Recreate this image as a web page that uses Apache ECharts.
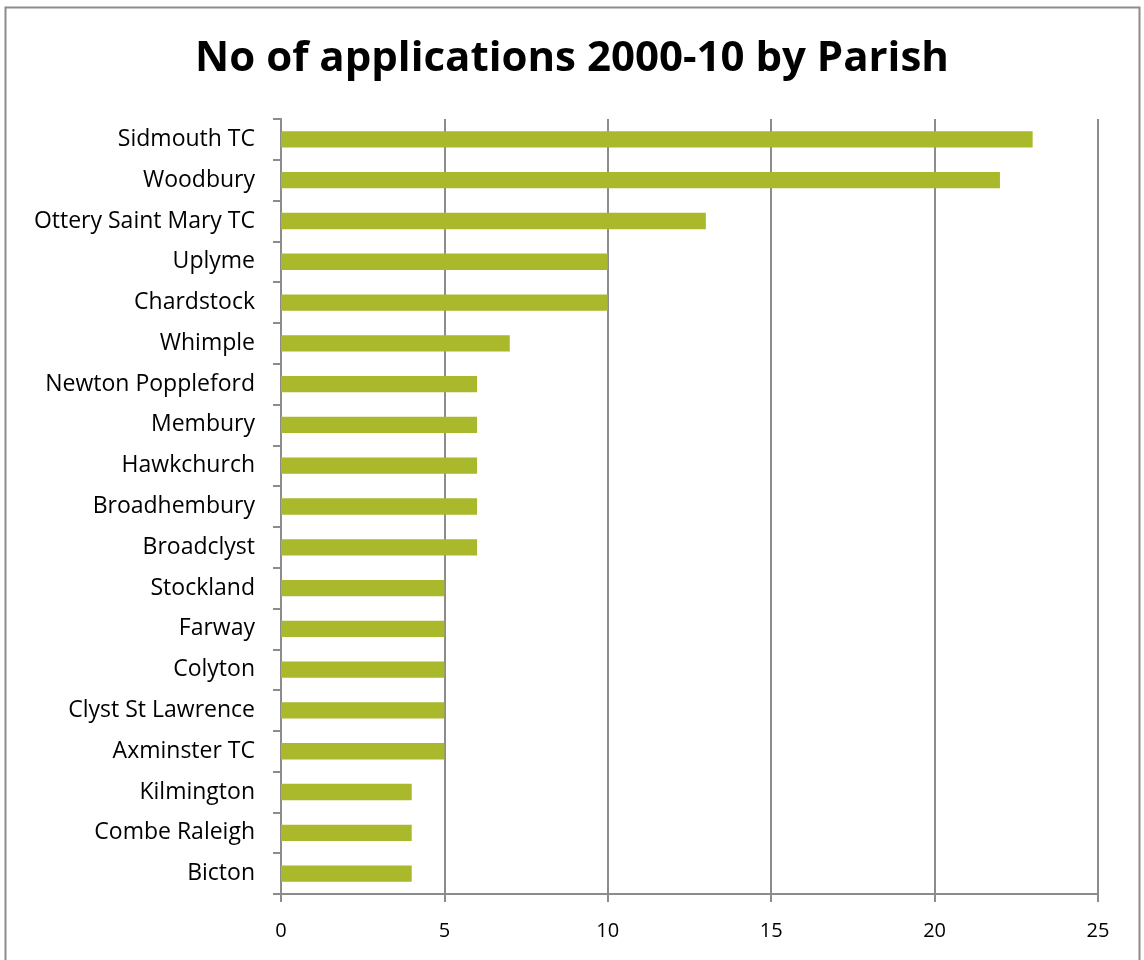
<!DOCTYPE html>
<html>
<head>
<meta charset="utf-8">
<script src="https://cdn.jsdelivr.net/npm/echarts@6/dist/echarts.min.js"></script>
<style>
  html, body {margin: 0; padding: 0; background: #fff;}
  #chart {width: 1144px; height: 960px;}
</style>
</head>
<body>
<div id="chart"></div>
<script>
// parishes, top to bottom as shown
const parishes = ['Sidmouth TC', 'Woodbury', 'Ottery Saint Mary TC', 'Uplyme', 'Chardstock', 'Whimple',
  'Newton Poppleford', 'Membury', 'Hawkchurch', 'Broadhembury', 'Broadclyst', 'Stockland', 'Farway',
  'Colyton', 'Clyst St Lawrence', 'Axminster TC', 'Kilmington', 'Combe Raleigh', 'Bicton'];
const applications = [23, 22, 13, 10, 10, 7, 6, 6, 6, 6, 6, 5, 5, 5, 5, 5, 4, 4, 4];
const xMin = 0, xMax = 25, xStep = 5;

const gray = '#8c8c8c';
const font = '"Open Sans", sans-serif';

const myChart = echarts.init(document.getElementById('chart'));
myChart.setOption({
  animation: false,
  backgroundColor: '#fff',
  graphic: [{
    type: 'rect',
    shape: {x: 5.5, y: 7.5, width: 1134, height: 1000},
    style: {fill: 'none', stroke: gray, lineWidth: 2}
  }],
  title: {
    text: 'No of applications 2000-10 by Parish',
    left: 'center',
    top: 33,
    textStyle: {fontFamily: font, fontWeight: 'bold', fontSize: 42, color: '#000'}
  },
  grid: {left: 281, right: 46, top: 119, bottom: 66, containLabel: false},
  xAxis: {
    type: 'value',
    min: xMin,
    max: xMax,
    interval: xStep,
    axisLine: {show: true, lineStyle: {color: gray, width: 2}},
    axisTick: {show: true, length: 8, lineStyle: {color: gray, width: 2}},
    splitLine: {show: true, lineStyle: {color: gray, width: 2}},
    axisLabel: {margin: 27, fontFamily: font, fontSize: 20, color: '#000'}
  },
  yAxis: {
    type: 'category',
    inverse: true,
    data: parishes,
    axisLine: {show: true, lineStyle: {color: gray, width: 2}},
    axisTick: {show: true, length: 8, lineStyle: {color: gray, width: 2}},
    axisLabel: {margin: 26, fontFamily: font, fontSize: 23, color: '#000'}
  },
  series: [{
    type: 'bar',
    data: applications,
    barCategoryGap: '60%',
    itemStyle: {color: '#a9b92b'}
  }]
});
</script>
</body>
</html>
